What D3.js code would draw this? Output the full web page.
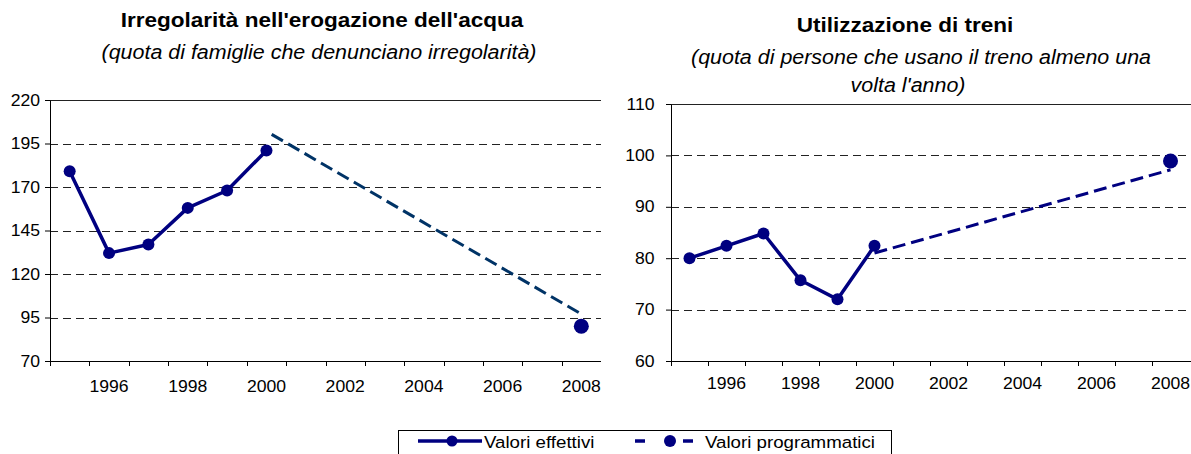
<!DOCTYPE html>
<html>
<head>
<meta charset="utf-8">
<script src="https://cdn.jsdelivr.net/npm/d3@7"></script>
<style>
  body { margin: 0; background: #fff; }
  svg { font-family: "Liberation Sans", Arial, sans-serif; display: block; }
</style>
</head>
<body>
<svg id="chart" width="1191" height="454"></svg>
<script>
// categories on the x axis
const years = ["1995", "1996", "1997", "1998", "1999", "2000", "2001",
               "2002", "2003", "2004", "2005", "2006", "2007", "2008"];

// left chart: water supply irregularity
const waterYears = ["1995", "1996", "1997", "1998", "1999", "2000"];
const waterValues = [179, 132, 137, 158, 168, 191];
const waterProgYears = ["2000", "2008"];
const waterProgValues = [202, 97];
const waterTargetYear = "2008";
const waterTarget = 90;
const waterTicks = [70, 95, 120, 145, 170, 195, 220];

// right chart: train use
const trainYears = ["1995", "1996", "1997", "1998", "1999", "2000"];
const trainValues = [80, 82.4, 84.8, 75.7, 72, 82.4];
const trainProgYears = ["2000", "2008"];
const trainProgValues = [81, 97.2];
const trainTargetYear = "2008";
const trainTarget = 98.9;
const trainTicks = [60, 70, 80, 90, 100, 110];

const legendLabels = ["Valori effettivi", "Valori programmatici"];

const navy = "#000080";
const stretch = 1.1; // the source picture is a bit wider than tall
const svg = d3.select("#chart");

// text helper, squeezes in the horizontal stretch of the source
function label(x, y, txt, size, weight, style) {
  return svg.append("text")
    .attr("transform", `translate(${x},${y}) scale(${stretch},1)`)
    .attr("text-anchor", "middle")
    .attr("font-size", size)
    .attr("font-weight", weight || "normal")
    .attr("font-style", style || "normal")
    .attr("fill", "#000")
    .text(txt);
}

function drawChart(cfg) {
  const x = d3.scaleBand().domain(years).range([cfg.left, cfg.right]);
  const y = d3.scaleLinear().domain(d3.extent(cfg.ticks)).range([cfg.bottom, cfg.top]);
  const cx = d => x(d) + x.bandwidth() / 2;
  const g = svg.append("g");

  // dashed gridlines, top one solid
  g.selectAll(".grid")
    .data(cfg.ticks.slice(1))
    .enter().append("line")
    .attr("x1", cfg.left).attr("x2", cfg.gridRight)
    .attr("y1", d => Math.round(y(d)) + 0.5).attr("y2", d => Math.round(y(d)) + 0.5)
    .attr("stroke", "#222")
    .attr("stroke-width", 1)
    .attr("stroke-dasharray", (d, i) => i === cfg.ticks.length - 2 ? null : "8,5");

  // y axis
  const yAxis = g.append("g")
    .attr("transform", `translate(${cfg.left},0)`)
    .call(d3.axisLeft(y).tickValues(cfg.ticks).tickSize(5).tickPadding(cfg.yPad).tickSizeOuter(0));
  yAxis.select(".domain").attr("stroke", "#000");
  yAxis.selectAll("text")
    .attr("font-size", 16)
    .attr("font-family", "Liberation Sans, Arial, sans-serif")
    .attr("fill", "#000")
    .attr("transform", `scale(${stretch},1)`);

  // x axis: labels on every other year, ticks between categories
  const xAxis = g.append("g")
    .attr("transform", `translate(0,${cfg.bottom})`)
    .call(d3.axisBottom(x).tickSize(0).tickPadding(cfg.xPad)
      .tickFormat(d => (+d % 2 === 0 ? d : "")));
  xAxis.select(".domain").remove();
  g.append("line")
    .attr("x1", cfg.left).attr("x2", cfg.gridRight)
    .attr("y1", cfg.bottom + 0.5).attr("y2", cfg.bottom + 0.5)
    .attr("stroke", "#000");
  xAxis.selectAll("text")
    .attr("font-size", 16)
    .attr("font-family", "Liberation Sans, Arial, sans-serif")
    .attr("fill", "#000")
    .attr("transform", `scale(${stretch},1)`);
  g.selectAll(".xtick")
    .data(years)
    .enter().append("line")
    .attr("x1", d => Math.round(x(d)) + 0.5)
    .attr("x2", d => Math.round(x(d)) + 0.5)
    .attr("y1", cfg.bottom).attr("y2", cfg.bottom + 5)
    .attr("stroke", "#000");

  // programmatic line (dashed)
  const line = d3.line().x(d => cx(d[0])).y(d => y(d[1]));
  g.append("path")
    .datum(cfg.progYears.map((d, i) => [d, cfg.progValues[i]]))
    .attr("d", line)
    .attr("fill", "none")
    .attr("stroke", cfg.progColor)
    .attr("stroke-width", 3)
    .attr("stroke-dasharray", "13,6")
    .attr("stroke-dashoffset", cfg.dashOffset);

  // actual values
  const pts = cfg.years.map((d, i) => [d, cfg.values[i]]);
  g.append("path")
    .datum(pts)
    .attr("d", line)
    .attr("fill", "none")
    .attr("stroke", navy)
    .attr("stroke-width", 3.5)
    .attr("stroke-linejoin", "round");
  g.selectAll(".dot")
    .data(pts)
    .enter().append("circle")
    .attr("cx", d => cx(d[0]))
    .attr("cy", d => y(d[1]))
    .attr("r", 6)
    .attr("fill", navy);

  // target marker
  g.append("circle")
    .attr("cx", cx(cfg.targetYear))
    .attr("cy", y(cfg.target))
    .attr("r", 7.5)
    .attr("fill", navy);
}

drawChart({
  left: 50, right: 601, gridRight: 601, top: 100, bottom: 361,
  ticks: waterTicks, yPad: 4, xPad: 20,
  years: waterYears, values: waterValues,
  progYears: waterProgYears, progValues: waterProgValues,
  progColor: "#003366", dashOffset: 13,
  targetYear: waterTargetYear, target: waterTarget
});

drawChart({
  left: 671, right: 1189, gridRight: 1191, top: 104, bottom: 361,
  ticks: trainTicks, yPad: 10, xPad: 17,
  years: trainYears, values: trainValues,
  progYears: trainProgYears, progValues: trainProgValues,
  progColor: navy, dashOffset: 0,
  targetYear: trainTargetYear, target: trainTarget
});

// titles
label(322, 27, "Irregolarità nell'erogazione dell'acqua", 20.5, "bold");
label(319, 59, "(quota di famiglie che denunciano irregolarità)", 19.5, "normal", "italic");
label(905, 32, "Utilizzazione di treni", 20.5, "bold");
label(921, 64, "(quota di persone che usano il treno almeno una", 19.5, "normal", "italic");
label(908, 92, "volta l'anno)", 19.5, "normal", "italic");

// legend
svg.append("rect")
  .attr("x", 398.5).attr("y", 430.5)
  .attr("width", 493).attr("height", 40)
  .attr("fill", "#fff").attr("stroke", "#000");
svg.append("line")
  .attr("x1", 418).attr("x2", 482).attr("y1", 441).attr("y2", 441)
  .attr("stroke", navy).attr("stroke-width", 3.5);
svg.append("circle").attr("cx", 452).attr("cy", 441).attr("r", 5.5).attr("fill", navy);
svg.append("line")
  .attr("x1", 635).attr("x2", 693).attr("y1", 441).attr("y2", 441)
  .attr("stroke", navy).attr("stroke-width", 3.5)
  .attr("stroke-dasharray", "10,38");
svg.append("circle").attr("cx", 670).attr("cy", 441).attr("r", 6).attr("fill", navy);
legendLabels.forEach((t, i) => {
  label(i === 0 ? 484 : 705, 448, t, 17).attr("text-anchor", "start");
});
</script>
</body>
</html>
